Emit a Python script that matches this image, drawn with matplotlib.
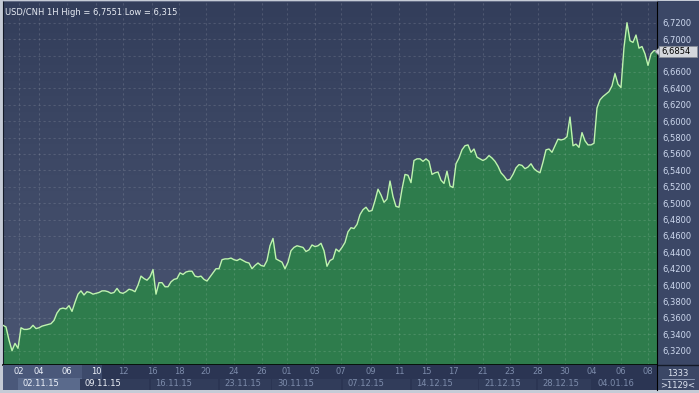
import numpy as np
import matplotlib
matplotlib.use("Agg")
import matplotlib.pyplot as plt
from matplotlib.colors import LinearSegmentedColormap
from matplotlib.patches import Rectangle, Polygon

# hourly USD/CNH closes (evenly spaced)
prices = [
    6.351, 6.349, 6.333, 6.320, 6.329, 6.323, 6.348, 6.346, 6.346, 6.347,
    6.351, 6.347, 6.348, 6.350, 6.351, 6.352, 6.353, 6.357, 6.366, 6.371,
    6.372, 6.371, 6.375, 6.368, 6.379, 6.389, 6.393, 6.388, 6.392, 6.391,
    6.389, 6.390, 6.391, 6.393, 6.393, 6.392, 6.390, 6.391, 6.396, 6.391,
    6.390, 6.392, 6.395, 6.394, 6.392, 6.400, 6.411, 6.408, 6.406, 6.410,
    6.419, 6.389, 6.403, 6.403, 6.398, 6.398, 6.404, 6.407, 6.408, 6.415,
    6.413, 6.416, 6.417, 6.417, 6.411, 6.410, 6.411, 6.407, 6.405, 6.410,
    6.415, 6.420, 6.420, 6.431, 6.432, 6.432, 6.433, 6.431, 6.430, 6.432,
    6.430, 6.428, 6.427, 6.420, 6.424, 6.427, 6.424, 6.423, 6.430, 6.448,
    6.457, 6.432, 6.430, 6.428, 6.420, 6.428, 6.442, 6.446, 6.448, 6.447,
    6.446, 6.441, 6.443, 6.449, 6.447, 6.448, 6.451, 6.442, 6.423, 6.430,
    6.432, 6.444, 6.441, 6.446, 6.452, 6.465, 6.470, 6.469, 6.474, 6.486,
    6.492, 6.495, 6.490, 6.491, 6.503, 6.517, 6.510, 6.501, 6.505, 6.527,
    6.508, 6.496, 6.495, 6.517, 6.535, 6.534, 6.525, 6.552, 6.554, 6.554,
    6.551, 6.554, 6.551, 6.535, 6.537, 6.538, 6.528, 6.524, 6.539, 6.521,
    6.519, 6.548, 6.555, 6.565, 6.570, 6.571, 6.562, 6.566, 6.556, 6.554,
    6.552, 6.554, 6.558, 6.555, 6.551, 6.545, 6.537, 6.533, 6.528, 6.529,
    6.535, 6.543, 6.547, 6.546, 6.542, 6.544, 6.548, 6.542, 6.539, 6.537,
    6.550, 6.565, 6.566, 6.562, 6.570, 6.578, 6.577, 6.578, 6.581, 6.605,
    6.570, 6.572, 6.568, 6.586, 6.576, 6.571, 6.571, 6.573, 6.616, 6.626,
    6.630, 6.633, 6.636, 6.643, 6.658, 6.645, 6.641, 6.690, 6.720, 6.698,
    6.696, 6.705, 6.689, 6.691, 6.682, 6.668, 6.682, 6.686, 6.6854,
]
last_price = 6.6854

day_labels = ["02", "04", "06", "10", "12", "16", "18", "20", "24", "26", "01", "03",
              "07", "09", "11", "15", "17", "21", "23", "28", "30", "04", "06", "08"]
day_pos = [5.3, 12, 21.3, 31, 40, 49.7, 58.7, 67.7, 77, 86.3, 94.7, 104,
           112.7, 122.7, 132, 141, 150.3, 160, 169, 178.3, 187.3, 196.3, 206, 215]
week_labels = ["02.11.15", "09.11.15", "16.11.15", "23.11.15", "30.11.15",
               "07.12.15", "14.12.15", "21.12.15", "28.12.15", "04.01.16"]
week_pos = [6.6, 27.3, 50.7, 73.7, 91.3, 114.7, 137.7, 160.3, 179.7, 198]
y_ticks = np.arange(6.32, 6.7201, 0.02)

W, H = 699, 393
N = len(prices)
x = np.arange(N)
ymin, ymax = 6.3026, 6.7465

fig = plt.figure(figsize=(W / 100, H / 100), dpi=100, facecolor="#c5cbd6")

# right price panel (drawn first so the tick labels sit on top)
rp = fig.add_axes([657 / W, 3 / H, 42 / W, 389 / H])
rp.set_facecolor("#3b4766")
rp.set_xlim(0, 1)
rp.set_ylim(0, 1)
rp.set_xticks([])
rp.set_yticks([])
for s in rp.spines.values():
    s.set_visible(False)
rp.axhline(25 / 389, color="#141a28", lw=1)
rp.text(0.5, 16 / 389, "1333", ha="center", va="center", fontsize=6, color="#dfe6f2")
rp.plot([0.12, 0.88], [11 / 389, 11 / 389], color="#9aa6c0", lw=0.6)
rp.text(0.5, 5 / 389, ">1129<", ha="center", va="center", fontsize=6, color="#dfe6f2")

# main chart
ax = fig.add_axes([3 / W, 1 - 365 / H, 654 / W, 364 / H])
ax.set_xlim(0, N - 1)
ax.set_ylim(ymin, ymax)
cmap = LinearSegmentedColormap.from_list("bg", ["#4a5572", "#333e5b"])
grad = np.linspace(1, 0, 256).reshape(-1, 1)
ax.imshow(grad, extent=[0, N - 1, ymin, ymax], aspect="auto", cmap=cmap,
          zorder=0, interpolation="bicubic")
ax.fill_between(x, prices, ymin, color="#2e7c4c", lw=0, zorder=1)
ax.plot(x, prices, color="#bdf5ad", lw=1.0, zorder=3)

ax.set_xticks(day_pos)
ax.set_yticks(y_ticks)
ax.grid(True, color="white", alpha=0.13, ls=(0, (2, 2.5)), lw=0.8)
ax.tick_params(axis="x", labelbottom=False, length=0)
ax.yaxis.tick_right()
ylabs = [f"{v:.4f}".replace(".", ",") for v in y_ticks]
ylabs = ["" if abs(v - 6.68) < 1e-6 else l for v, l in zip(y_ticks, ylabs)]
ax.set_yticklabels(ylabs)
ax.tick_params(axis="y", length=0, pad=4, labelsize=6, labelcolor="#cdd8ee")
ax.spines["left"].set_color("#141a28")
ax.spines["right"].set_color("black")
ax.spines["bottom"].set_color("black")
ax.spines["bottom"].set_linewidth(1.2)
ax.spines["top"].set_color("#7a8299")
ax.spines["top"].set_linewidth(0.5)

ax.text(0.003, 0.98, "USD/CNH 1H High = 6,7551 Low = 6,315", transform=ax.transAxes,
        ha="left", va="top", fontsize=6, color="#e8ecf4")

# time strip
sx = fig.add_axes([3 / W, 1 - 390 / H, 654 / W, 25 / H])
sx.set_facecolor("#2b3553")
sx.set_xlim(0, N - 1)
sx.set_ylim(0, 1)
sx.set_xticks([])
sx.set_yticks([])
for k in ["left", "top", "bottom"]:
    sx.spines[k].set_visible(False)
sx.spines["right"].set_color("black")
sx.axvspan(0, 26.3, color="#4a587a", lw=0)
sx.axvspan(26.3, 33, color="#3d4a6b", lw=0)
sx.axvspan(5, 26.3, ymax=0.48, color="#5a6a8c", lw=0)
for i in range(len(week_pos) - 1):
    if week_pos[i] > 26:
        sx.add_patch(Rectangle((week_pos[i] - 1.5, 0.02), week_pos[i + 1] - week_pos[i] - 0.6, 0.44,
                               fc="#313c5a", ec="none"))
for p, lab in zip(day_pos, day_labels):
    sx.text(p, 0.74, lab, ha="center", va="center", fontsize=6,
            color="#eef2fa" if p < 33 else "#7d8cab")
for p, lab in zip(week_pos, week_labels):
    sx.text(p, 0.24, lab, ha="left", va="center", fontsize=6,
            color="#eef2fa" if p < 33 else "#7d8cab")

# last price marker
py = 1 - 51.7 / H
fig.add_artist(Polygon([(655 / W, py), (660 / W, py + 4.5 / H), (660 / W, py - 4.5 / H)],
                       closed=True, transform=fig.transFigure, fc="#d4d7dc", ec="#8a909a", lw=0.5))
fig.add_artist(Rectangle((659 / W, py - 5.5 / H), 38 / W, 11 / H, transform=fig.transFigure,
                         fc="#d4d7dc", ec="#8a909a", lw=0.6))
fig.text(661 / W, py, f"{last_price:.4f}".replace(".", ","), ha="left", va="center",
         fontsize=6, color="black")

fig.savefig("out.png", dpi=100, facecolor=fig.get_facecolor())
